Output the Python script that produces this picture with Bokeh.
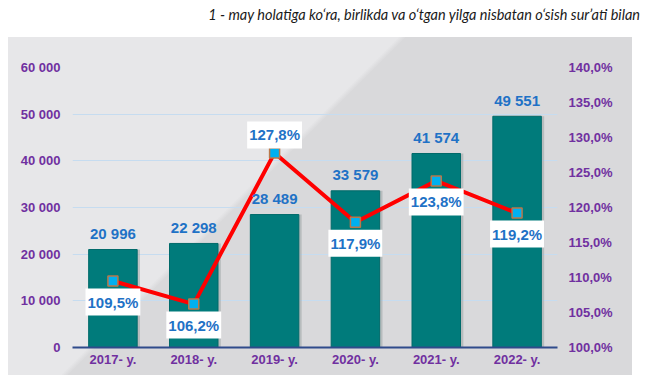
from bokeh.plotting import figure
from bokeh.layouts import column
from bokeh.models import (ColumnDataSource, FactorRange, Range1d, LinearAxis,
                          CustomJSTickFormatter, FixedTicker, Div)
from bokeh.transform import dodge
from bokeh.embed import file_html
from bokeh.resources import INLINE
from bokeh.core.properties import value

# ---- data ----
years = ["2017- y.", "2018- y.", "2019- y.", "2020- y.", "2021- y.", "2022- y."]
counts = [20996, 22298, 28489, 33579, 41574, 49551]
growth = [109.5, 106.2, 127.8, 117.9, 123.8, 119.2]
left_ticks = [0, 10000, 20000, 30000, 40000, 50000, 60000]
right_ticks = [100, 105, 110, 115, 120, 125, 130, 135, 140]
title_text = "1 - may holatiga ko\u2018ra, birlikda va o\u2018tgan yilga nisbatan o\u2018sish sur\u2019ati bilan"

Y_MAX = 60000
P_MIN, P_MAX = 100, 140

count_labels = [f"{c:,}".replace(",", " ") for c in counts]
growth_labels = [f"{g:.1f}".replace(".", ",") + "%" for g in growth]
# label above the point if the point is above its bar, else below
above = [(g - P_MIN) / (P_MAX - P_MIN) > c / Y_MAX for g, c in zip(growth, counts)]
goff = [-18 if a else 21 for a in above]

src = ColumnDataSource(dict(x=years, count=counts, growth=growth,
                            clabel=count_labels, glabel=growth_labels, goff=goff))

FONT = "Liberation Sans"
PURPLE = "#7030a0"
BLUE = "#1f72c6"

title = Div(text=title_text, width=640, height=37, margin=(0, 0, 0, 0),
            styles={"font-family": "Lato", "font-style": "italic",
                    "font-size": "14.5px", "color": "#1a1a1a",
                    "text-align": "right", "padding-top": "5px",
                    "white-space": "nowrap"})

p = figure(x_range=FactorRange(*years), y_range=Range1d(0, Y_MAX),
           width=624, height=338, output_backend="svg", toolbar_location=None,
           min_border_left=64, min_border_right=75, min_border_top=30,
           min_border_bottom=28, margin=(0, 0, 0, 8))
p.x_range.range_padding = 0
p.border_fill_color = None
p.background_fill_color = None
p.outline_line_color = None
p.styles = {"background": "linear-gradient(135deg, #e7e7e9 40.6%, #d9d9db 41.4%)"}

p.extra_y_ranges = {"pct": Range1d(P_MIN, P_MAX)}

# grid
p.xgrid.grid_line_color = None
p.ygrid.grid_line_color = "#c6dcf0"
p.ygrid.grid_line_width = 1
p.ygrid.ticker = FixedTicker(ticks=left_ticks)

# bars (shadow + bar)
p.vbar(x=dodge("x", 0.035, range=p.x_range), top="count", width=0.6, source=src,
       fill_color="#8f9a9a", fill_alpha=0.45, line_color=None)
p.vbar(x="x", top="count", width=0.6, source=src,
       fill_color="#007b7b", line_color="#006a6a", line_width=1)

# line + markers
p.line(x="x", y="growth", source=src, y_range_name="pct",
       line_color="#ff0000", line_width=4)
p.scatter(x="x", y="growth", source=src, y_range_name="pct", marker="square",
          size=10, fill_color="#00b0f0", line_color="#b9784a", line_width=1.5)

# bar value labels
p.text(x="x", y="count", text="clabel", source=src, text_align="center",
       text_baseline="middle", y_offset=-16, text_font=value(FONT),
       text_font_style="bold", text_font_size="15px", text_color=BLUE)

# growth labels in white boxes
p.text(x="x", y="growth", text="glabel", source=src, y_range_name="pct",
       y_offset="goff", text_align="center", text_baseline="middle",
       text_font=value(FONT), text_font_style="bold", text_font_size="15px",
       text_color=BLUE, background_fill_color="white", padding=[2, 5])

# axes
p.yaxis.ticker = FixedTicker(ticks=left_ticks)
p.yaxis.formatter = CustomJSTickFormatter(
    code="return tick == 0 ? '0' : (tick/1000).toFixed(0) + ' 000';")
ya = p.yaxis[0]
ya.axis_line_color = None
ya.major_tick_line_color = None
ya.minor_tick_line_color = None
ya.major_tick_out = 0
ya.major_label_standoff = 12

right = LinearAxis(y_range_name="pct", ticker=FixedTicker(ticks=right_ticks),
                   formatter=CustomJSTickFormatter(
                       code="return tick.toFixed(1).replace('.', ',') + '%';"))
right.axis_line_color = None
right.major_tick_line_color = None
right.minor_tick_line_color = None
right.major_tick_out = 0
right.major_label_standoff = 11
p.add_layout(right, "right")

xa = p.xaxis[0]
xa.axis_line_color = "#2f4b8b"
xa.axis_line_width = 2
xa.major_tick_line_color = None
xa.major_tick_out = 0
xa.major_label_standoff = 4

for ax in [ya, right, xa]:
    ax.major_label_text_font = FONT
    ax.major_label_text_font_style = "bold"
    ax.major_label_text_font_size = "13px"
    ax.major_label_text_color = PURPLE

layout = column(title, p, spacing=0)
open("out.html", "w").write(file_html(layout, INLINE))
